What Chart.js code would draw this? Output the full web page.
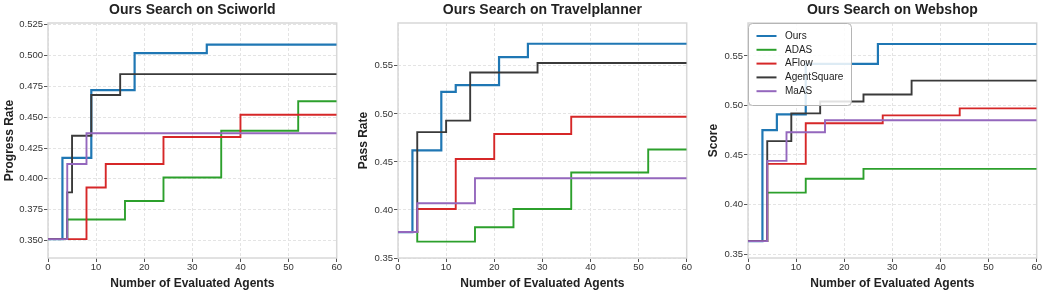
<!DOCTYPE html>
<html>
<head>
<meta charset="utf-8">
<script src="https://cdn.jsdelivr.net/npm/chart.js@4.4.1/dist/chart.umd.min.js"></script>
<style>
  html, body { margin: 0; padding: 0; background: #fff; }
  #wrap { position: relative; width: 1046px; height: 293px; }
  canvas { position: absolute; top: 0; }
</style>
</head>
<body>
<div id="wrap">
  <canvas id="sciChart" width="350" height="293" style="left:0"></canvas>
  <canvas id="tpChart" width="350" height="293" style="left:350px"></canvas>
  <canvas id="wsChart" width="346" height="293" style="left:700px"></canvas>
</div>
<script>
// ---- data ----
const seriesNames = ['Ours', 'ADAS', 'AFlow', 'AgentSquare', 'MaAS'];
const seriesColors = ['#1f77b4', '#2ca02c', '#d62728', '#3a3a3a', '#9467bd'];

const xTicks = [0, 10, 20, 30, 40, 50, 60];

// Sciworld: [evaluated agents, progress rate] step points
const sciOurs        = [[0, 0.351], [3, 0.417], [9, 0.472], [18, 0.502], [33, 0.509], [60, 0.509]];
const sciAdas        = [[0, 0.351], [4, 0.367], [16, 0.382], [24, 0.401], [36, 0.439], [52, 0.463], [60, 0.463]];
const sciAflow       = [[0, 0.351], [8, 0.393], [12, 0.412], [24, 0.434], [40, 0.452], [60, 0.452]];
const sciAgentSquare = [[0, 0.351], [4, 0.389], [5, 0.435], [9, 0.468], [15, 0.485], [60, 0.485]];
const sciMaas        = [[0, 0.351], [4, 0.412], [8, 0.437], [60, 0.437]];
const sciYTicks = [0.350, 0.375, 0.400, 0.425, 0.450, 0.475, 0.500, 0.525];

// Travelplanner: pass rate
const tpOurs        = [[0, 0.377], [3, 0.462], [9, 0.523], [12, 0.530], [21, 0.559], [27, 0.573], [60, 0.573]];
const tpAdas        = [[0, 0.377], [4, 0.367], [16, 0.382], [24, 0.401], [36, 0.439], [52, 0.463], [60, 0.463]];
const tpAflow       = [[0, 0.377], [4, 0.401], [12, 0.453], [20, 0.479], [36, 0.497], [60, 0.497]];
const tpAgentSquare = [[0, 0.377], [4, 0.481], [10, 0.493], [15, 0.543], [29, 0.553], [60, 0.553]];
const tpMaas        = [[0, 0.377], [4, 0.407], [16, 0.433], [60, 0.433]];
const tpYTicks = [0.35, 0.40, 0.45, 0.50, 0.55];

// Webshop: score
const wsOurs        = [[0, 0.363], [3, 0.475], [6, 0.491], [12, 0.542], [27, 0.562], [60, 0.562]];
const wsAdas        = [[0, 0.363], [4, 0.412], [12, 0.426], [24, 0.436], [60, 0.436]];
const wsAflow       = [[0, 0.363], [4, 0.441], [12, 0.482], [28, 0.490], [44, 0.497], [60, 0.497]];
const wsAgentSquare = [[0, 0.363], [4, 0.464], [9, 0.492], [15, 0.504], [24, 0.511], [34, 0.525], [60, 0.525]];
const wsMaas        = [[0, 0.363], [4, 0.444], [8, 0.473], [16, 0.485], [60, 0.485]];
const wsYTicks = [0.35, 0.40, 0.45, 0.50, 0.55];

Chart.defaults.font.family = '"Liberation Sans", Arial, Helvetica, sans-serif';
Chart.defaults.color = '#333';

// light frame round the plot area (all four sides)
const frameBox = {
    id: 'frameBox',
    beforeDatasetsDraw(chart) {
        const { ctx, chartArea: a } = chart;
        ctx.save();
        ctx.strokeStyle = '#d8d8d8';
        ctx.lineWidth = 1.5;
        ctx.strokeRect(a.left, a.top, a.right - a.left, a.bottom - a.top);
        ctx.restore();
    }
};

// matplotlib-like legend box inside the plot (upper left)
const insideLegend = {
    id: 'insideLegend',
    afterDatasetsDraw(chart, args, opts) {
        if (!opts.show) return;
        const { ctx, chartArea: a } = chart;
        const x = a.left + 0.5, y = a.top + 0.5, w = 103, h = 82, r = 4;
        ctx.save();
        ctx.beginPath();
        ctx.roundRect(x, y, w, h, r);
        ctx.fillStyle = 'rgba(255,255,255,0.85)';
        ctx.fill();
        ctx.strokeStyle = '#b5b5b5';
        ctx.lineWidth = 1;
        ctx.stroke();
        ctx.font = '10px "Liberation Sans", Arial, sans-serif';
        ctx.textBaseline = 'middle';
        chart.data.datasets.forEach((ds, i) => {
            const ly = a.top + 13 + i * 13.8;
            ctx.strokeStyle = ds.borderColor;
            ctx.lineWidth = 2;
            ctx.beginPath();
            ctx.moveTo(a.left + 8.5, ly);
            ctx.lineTo(a.left + 28.5, ly);
            ctx.stroke();
            ctx.fillStyle = '#222';
            ctx.fillText(ds.label, a.left + 37, ly);
        });
        ctx.restore();
    }
};

function makePanel(id, title, yLabel, yMin, yMax, yTicks, decimals, series, opts) {
    const datasets = series.map((steps, i) => ({
        label: seriesNames[i],
        data: steps.map(([x, y]) => ({ x, y })),
        borderColor: seriesColors[i],
        borderWidth: i === 0 ? 2.2 : 1.9,
        stepped: 'before',
        pointRadius: 0,
        fill: false,
        order: series.length - i,
    }));

    new Chart(document.getElementById(id), {
        type: 'line',
        data: { datasets },
        options: {
            responsive: false,
            animation: false,
            devicePixelRatio: 1,
            layout: { padding: { left: 0, right: opts.padRight, top: 0, bottom: 0 } },
            plugins: {
                legend: { display: false },
                tooltip: { enabled: false },
                title: {
                    display: true, text: title, fullSize: false, color: '#222',
                    font: { size: 14, weight: 'bold' },
                    padding: { top: 2, bottom: 4.2 }
                },
                insideLegend: { show: !!opts.legend }
            },
            scales: {
                x: {
                    type: 'linear', min: 0, max: 60,
                    afterBuildTicks: s => { s.ticks = xTicks.map(v => ({ value: v })); },
                    afterFit: s => { s.height = 35; },
                    ticks: { font: { size: 9.5 }, color: '#333', padding: 0, maxRotation: 0 },
                    grid: { color: '#e4e4e4', tickColor: '#555', tickLength: 4 },
                    border: { display: false, dash: [3, 2] },
                    title: {
                        display: true, text: 'Number of Evaluated Agents', color: '#222',
                        font: { size: 12, weight: 'bold' }, padding: { top: 0, bottom: 2 }
                    }
                },
                y: {
                    type: 'linear', min: yMin, max: yMax,
                    afterBuildTicks: s => { s.ticks = yTicks.map(v => ({ value: v })); },
                    afterFit: s => { s.width = 48; },
                    ticks: {
                        font: { size: 9.5 }, color: '#333', padding: 1,
                        callback: v => v.toFixed(decimals)
                    },
                    grid: { color: '#e4e4e4', tickColor: '#555', tickLength: 4 },
                    border: { display: false, dash: [3, 2] },
                    title: {
                        display: true, text: yLabel, color: '#222',
                        font: { size: 12, weight: 'bold' }, padding: { top: opts.yTitlePad, bottom: 0 }
                    }
                }
            }
        },
        plugins: [frameBox, insideLegend]
    });
}

makePanel('sciChart', 'Ours Search on Sciworld', 'Progress Rate', 0.3357, 0.5265, sciYTicks, 3,
    [sciOurs, sciAdas, sciAflow, sciAgentSquare, sciMaas], { padRight: 13.3, yTitlePad: 2 });
makePanel('tpChart', 'Ours Search on Travelplanner', 'Pass Rate', 0.35, 0.5946, tpYTicks, 2,
    [tpOurs, tpAdas, tpAflow, tpAgentSquare, tpMaas], { padRight: 13.3, yTitlePad: 6 });
makePanel('wsChart', 'Ours Search on Webshop', 'Score', 0.346, 0.5832, wsYTicks, 2,
    [wsOurs, wsAdas, wsAflow, wsAgentSquare, wsMaas], { padRight: 9.3, yTitlePad: 6, legend: true });
</script>
</body>
</html>
